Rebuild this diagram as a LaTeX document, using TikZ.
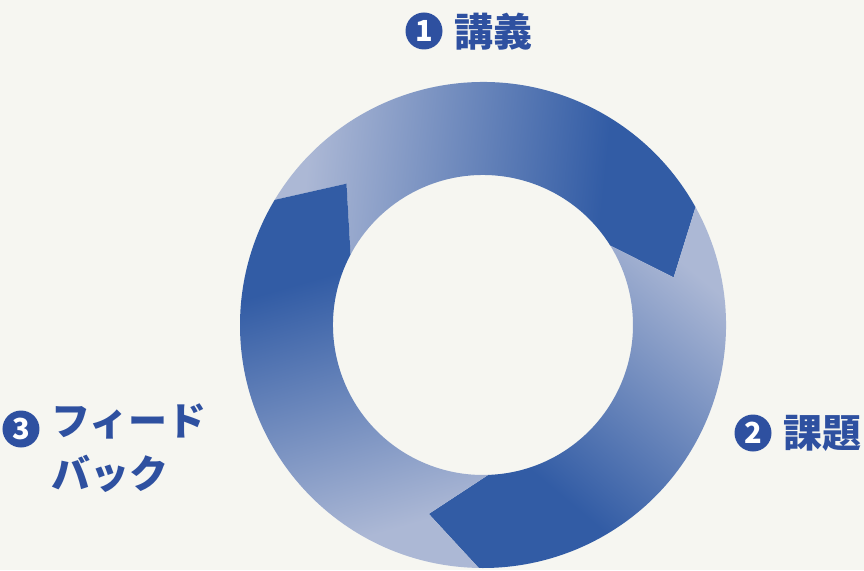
\documentclass[tikz,border=0pt]{standalone}
\usepackage{fontspec}
\newfontfamily\jp{Noto Sans CJK JP}
\definecolor{bgcol}{RGB}{246,246,241}
\definecolor{ringdark}{RGB}{50,92,165}
\definecolor{ringlight}{RGB}{172,184,213}
\definecolor{labelblue}{RGB}{46,80,160}
\pgfdeclarehorizontalshading{ringgrad}{100bp}{color(0bp)=(ringlight); color(28bp)=(ringlight); color(65bp)=(ringdark); color(100bp)=(ringdark)}
\newcommand\ringarrow[2]{%
  \shade[shading=ringgrad, shading angle=#2]
    ({#1+135}:243pt) arc[start angle={#1+135}, end angle={#1+15}, radius=243pt]
    -- (#1:196.5pt) -- ({#1+18}:150pt)
    arc[start angle={#1+18}, end angle={#1+138}, radius=150pt]
    -- ({#1+120}:196.5pt) -- cycle;}
\tikzset{
  numdot/.style={circle, fill=labelblue, minimum size=37pt, inner sep=0pt,
    text=white, font={\jp\bfseries\fontsize{29}{29}\selectfont}},
  lbl/.style={anchor=west, inner sep=0pt, text=labelblue, align=left,
    font={\jp\bfseries\fontsize{39}{53}\selectfont}}
}
\begin{document}
\begin{tikzpicture}[x=1pt,y=1pt]
\useasboundingbox[fill=bgcol] (-483,-245) rectangle (381,325);
% ring arrows (tip angle, shading angle)
\ringarrow{14}{-6}
\ringarrow{254}{-130}
\ringarrow{134}{106}
% labels
\node[numdot] (n1) at (-59,294) {1};
\node[lbl] (t1) at (-29,293) {講義};
\node[numdot] (n2) at (270,-108) {2};
\node[lbl] (t2) at (300,-108) {課題};
\node[numdot] (n3) at (-462,-104) {3};
\node[lbl, anchor=north west] (t3) at (-432,-79) {フィード\\バック};
\end{tikzpicture}
\end{document}
